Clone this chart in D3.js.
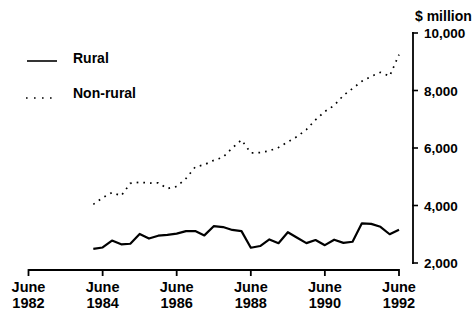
<!DOCTYPE html>
<html><head><meta charset="utf-8">
<script src="https://cdn.jsdelivr.net/npm/d3@7"></script>
<style>
html,body{margin:0;padding:0;background:#fff;}
text{font-family:"Liberation Sans",Arial,Helvetica,sans-serif;font-weight:bold;fill:#000;}
</style></head>
<body><svg id="c" width="476" height="311"></svg>
<script>
const quarters = ["Mar 1984","Jun 1984","Sep 1984","Dec 1984","Mar 1985","Jun 1985","Sep 1985","Dec 1985",
"Mar 1986","Jun 1986","Sep 1986","Dec 1986","Mar 1987","Jun 1987","Sep 1987","Dec 1987",
"Mar 1988","Jun 1988","Sep 1988","Dec 1988","Mar 1989","Jun 1989","Sep 1989","Dec 1989",
"Mar 1990","Jun 1990","Sep 1990","Dec 1990","Mar 1991","Jun 1991","Sep 1991","Dec 1991",
"Mar 1992","Jun 1992"];
const rural = [2490,2540,2780,2650,2670,3010,2850,2950,2980,3020,3110,3110,2960,3280,3250,3150,
3110,2530,2590,2820,2690,3070,2880,2690,2800,2620,2810,2700,2740,3380,3360,3260,3000,3160];
const nonRural = [4040,4270,4450,4340,4770,4810,4780,4790,4590,4660,4940,5340,5420,5570,5680,6000,
6280,5830,5840,5900,6020,6210,6400,6640,6980,7270,7480,7830,8070,8320,8490,8630,8500,9250];
const xTickYears = ["1982","1984","1986","1988","1990","1992"];
const yTicks = [2000,4000,6000,8000,10000];
const seriesNames = ["Rural","Non-rural"];
const unitLabel = "$ million";

const parse = d3.timeParse("%b %Y");
const dates = quarters.map(parse);
const svg = d3.select("#c");

const x = d3.scaleTime().domain([parse("Jun 1982"), parse("Jun 1992")]).range([28.5, 399]);
const y = d3.scaleLinear().domain([2000, 10000]).range([263, 33]);

// X axis
const xAxisY = 270;
svg.append("line").attr("x1", x(parse("Jun 1982"))).attr("x2", x(parse("Jun 1992")))
  .attr("y1", xAxisY).attr("y2", xAxisY).attr("stroke", "#000").attr("stroke-width", 1.8);
xTickYears.forEach(yr => {
  const xx = x(parse("Jun " + yr));
  svg.append("line").attr("x1", xx).attr("x2", xx).attr("y1", xAxisY - 0.9).attr("y2", xAxisY + 6)
    .attr("stroke", "#000").attr("stroke-width", 1.8);
  const t = svg.append("text").attr("x", xx).attr("text-anchor", "middle").style("font-size", "14.5px");
  t.append("tspan").attr("x", xx).attr("y", 292).text("June");
  t.append("tspan").attr("x", xx).attr("y", 308).text(yr);
});

// Y axis (right)
const yAxisX = 413;
svg.append("line").attr("x1", yAxisX).attr("x2", yAxisX).attr("y1", y(10000) - 0.9).attr("y2", y(2000) + 0.9)
  .attr("stroke", "#000").attr("stroke-width", 1.8);
yTicks.forEach(v => {
  svg.append("line").attr("x1", yAxisX - 0.9).attr("x2", yAxisX + 5).attr("y1", y(v)).attr("y2", y(v))
    .attr("stroke", "#000").attr("stroke-width", 1.6);
  svg.append("text").attr("x", 424).attr("y", y(v) + 5).style("font-size", "13.5px")
    .text(d3.format(",")(v));
});
svg.append("text").attr("x", 415).attr("y", 21).style("font-size", "14px").text(unitLabel);

// Lines
const line = d3.line().x((d, i) => x(dates[i])).y(d => y(d));
svg.append("path").datum(rural).attr("d", line).attr("fill", "none")
  .attr("stroke", "#000").attr("stroke-width", 2.2).attr("stroke-linejoin", "round");
svg.append("path").datum(nonRural).attr("d", line).attr("fill", "none")
  .attr("stroke", "#000").attr("stroke-width", 1.7).attr("stroke-dasharray", "1.7,5");

// Legend
svg.append("line").attr("x1", 27).attr("x2", 57).attr("y1", 61).attr("y2", 61)
  .attr("stroke", "#000").attr("stroke-width", 1.6);
svg.append("text").attr("x", 73).attr("y", 63).style("font-size", "14px").text(seriesNames[0]);
svg.append("line").attr("x1", 26).attr("x2", 53).attr("y1", 98).attr("y2", 98)
  .attr("stroke", "#000").attr("stroke-width", 1.6).attr("stroke-dasharray", "1.6,6.4");
svg.append("text").attr("x", 73).attr("y", 98).style("font-size", "14px").text(seriesNames[1]);
</script></body></html>
